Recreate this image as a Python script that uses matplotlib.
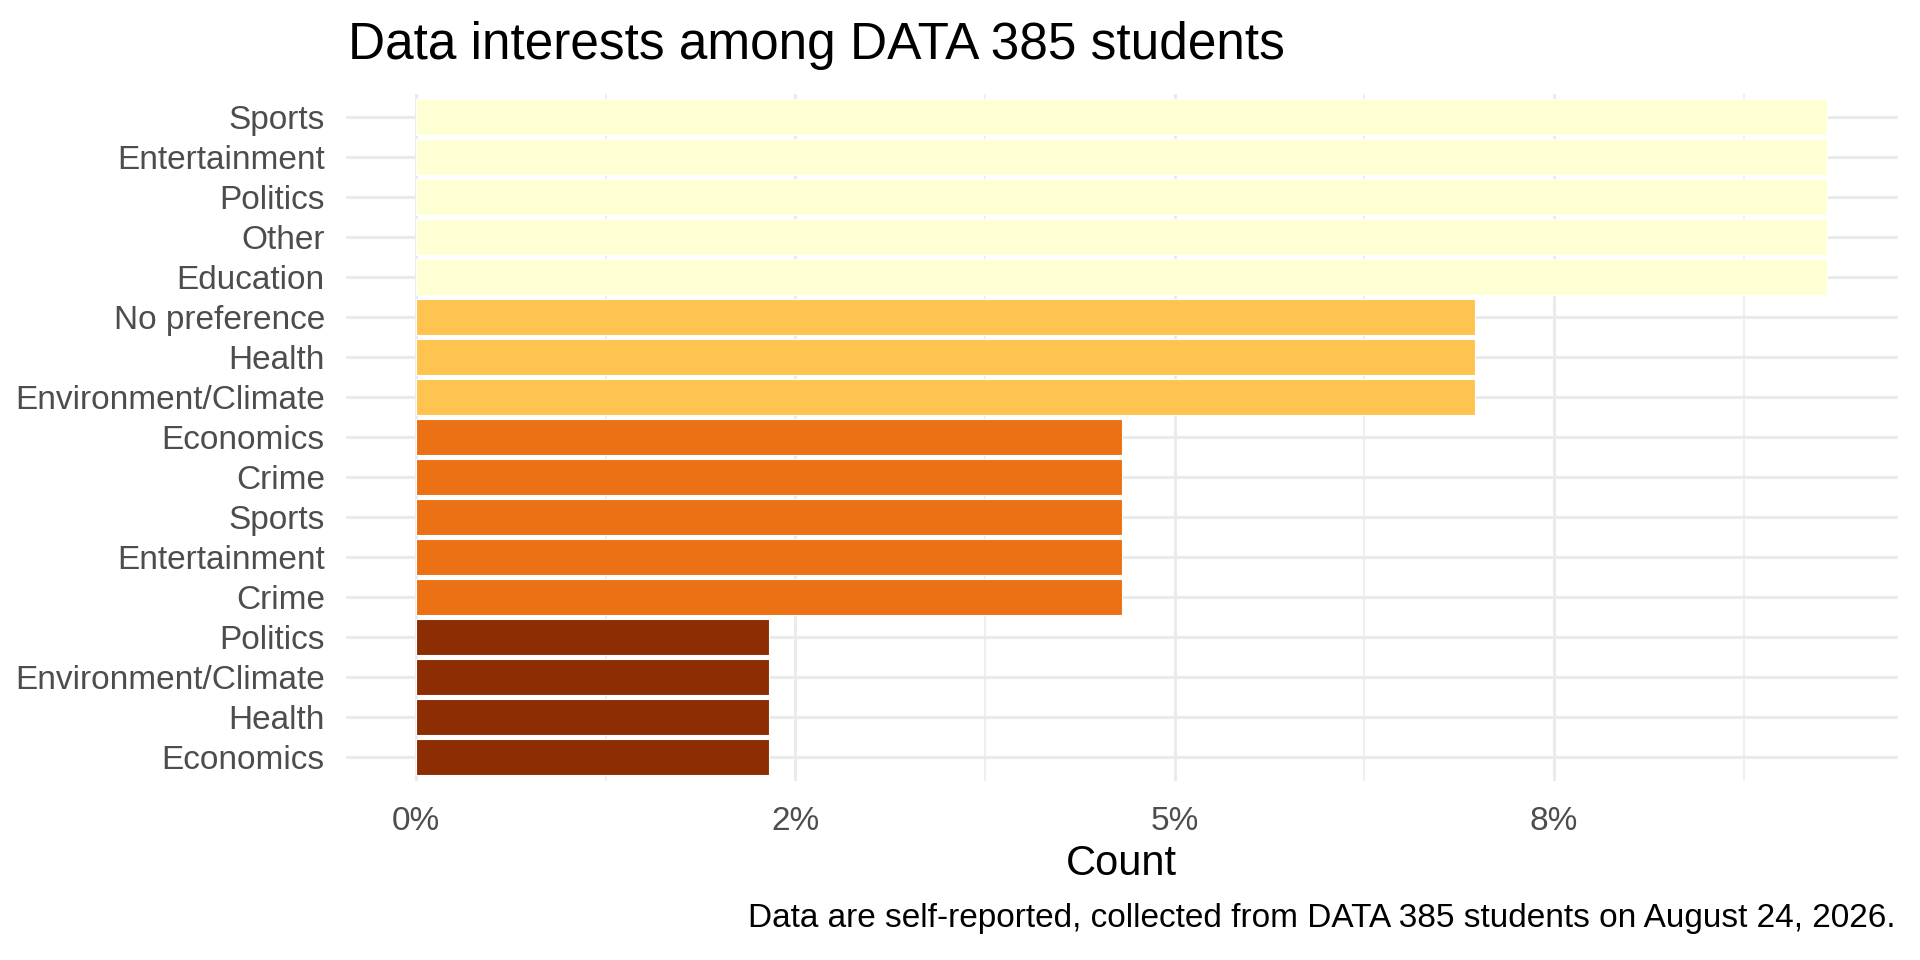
import matplotlib
matplotlib.use("Agg")
import matplotlib.pyplot as plt
from matplotlib.ticker import FixedLocator, FixedFormatter

plt.rcParams["font.family"] = ["Liberation Sans", "DejaVu Sans"]

# ── data (top to bottom) ──
TOPICS = [
    "Sports", "Entertainment", "Politics", "Other", "Education",
    "No preference", "Health", "Environment/Climate",
    "Economics", "Crime", "Sports", "Entertainment", "Crime",
    "Politics", "Environment/Climate", "Health", "Economics",
]
COUNTS = [4, 4, 4, 4, 4, 3, 3, 3, 2, 2, 2, 2, 2, 1, 1, 1, 1]
TOTAL = 43
SHARES = [c / TOTAL for c in COUNTS]

# YlOrBr steps keyed by count
FILL = {4: "#FFFFD4", 3: "#FEC44F", 2: "#EC7014", 1: "#8C2D04"}

TICKS = [0, 0.025, 0.05, 0.075]
TICK_LABELS = ["0%", "2%", "5%", "8%"]
MINOR = [0.0125, 0.0375, 0.0625, 0.0875]

fig = plt.figure(figsize=(19.2, 9.6), dpi=100)
ax = fig.add_axes([0.180, 0.1867, 0.8085, 0.7159])

n = len(TOPICS)
ypos = list(range(n, 0, -1))
ax.barh(ypos, SHARES, height=0.9, color=[FILL[c] for c in COUNTS],
        edgecolor="white", linewidth=0.8, zorder=3)

smax = max(SHARES)
ax.set_xlim(-0.05 * smax, smax * 1.05)
ax.set_ylim(0.4, n + 0.6)

ax.xaxis.set_major_locator(FixedLocator(TICKS))
ax.xaxis.set_major_formatter(FixedFormatter(TICK_LABELS))
ax.xaxis.set_minor_locator(FixedLocator(MINOR))
ax.set_yticks(ypos)
ax.set_yticklabels(TOPICS)

ax.grid(which="major", axis="both", color="#EBEBEB", linewidth=2.2, zorder=0)
ax.grid(which="minor", axis="x", color="#EBEBEB", linewidth=1.1, zorder=0)
ax.set_axisbelow(True)
for sp in ax.spines.values():
    sp.set_visible(False)

ax.tick_params(axis="both", which="both", length=0, labelsize=24, labelcolor="#4D4D4D")
ax.tick_params(axis="x", pad=18)
ax.tick_params(axis="y", pad=15)

ax.set_xlabel("Count", fontsize=30, color="black", labelpad=5)

fig.text(0.1815, 0.953, "Data interests among DATA 385 students",
         fontsize=37, color="black", ha="left", va="center")
fig.text(0.987, 0.043,
         "Data are self-reported, collected from DATA 385 students on August 24, 2026.",
         fontsize=24, color="black", ha="right", va="center")

fig.savefig("out.png", dpi=100, facecolor="white")
